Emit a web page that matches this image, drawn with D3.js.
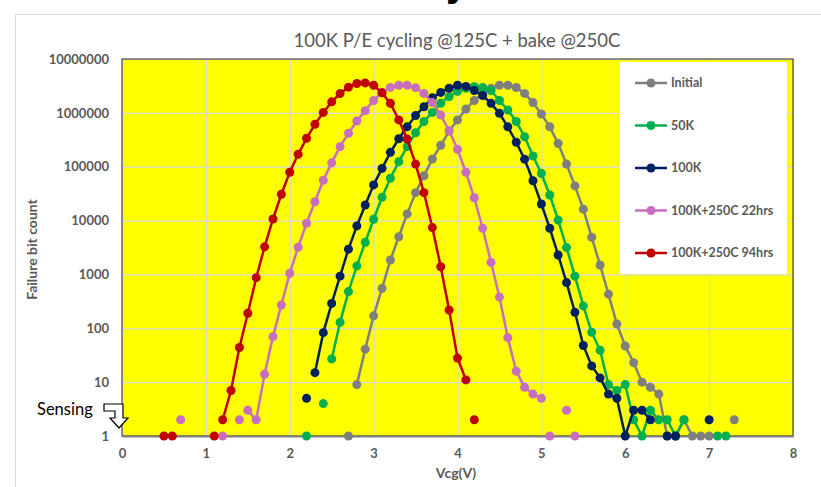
<!DOCTYPE html>
<html>
<head>
<meta charset="utf-8">
<script src="https://cdn.jsdelivr.net/npm/d3@7"></script>
<style>
  body { margin: 0; background: #fff; }
  svg { display: block; font-family: Lato, 'Open Sans', sans-serif; }
</style>
</head>
<body>
<div id="viz"></div>
<script>
// tick labels
const xTicks = [0, 1, 2, 3, 4, 5, 6, 7, 8]
const yTicks = [1, 10, 100, 1000, 10000, 100000, 1000000, 10000000]

// series: [Vcg, failure bit count], null = break in the line
const initial = [[2.7,1], null,
  [2.8,9],[2.9,41],[3.0,170],[3.1,550],[3.2,1850],[3.3,5000],[3.4,13300],[3.5,33000],
  [3.6,68000],[3.7,139000],[3.8,250000],[3.9,458000],[4.0,740000],[4.1,1180000],[4.2,1700000],
  [4.3,2300000],[4.4,2850000],[4.5,3250000],[4.6,3250000],[4.7,2960000],[4.8,2300000],
  [4.9,1550000],[5.0,950000],[5.1,550000],[5.2,270000],[5.3,112000],[5.4,44000],[5.5,16300],
  [5.6,4900],[5.7,1490],[5.8,430],[5.9,120],[6.0,47],[6.1,23],[6.2,10],[6.3,8],[6.4,6],
  [6.5,1],[6.6,1],[6.7,2],[6.8,1],[6.9,1],[7.0,1], null, [7.3,2]]

const k50 = [[2.2,1], null, [2.4,4], null,
  [2.5,27],[2.6,129],[2.7,480],[2.8,1440],[2.9,3960],[3.0,10600],[3.1,27000],[3.2,61000],
  [3.3,124000],[3.4,236000],[3.5,428000],[3.6,690000],[3.7,1020000],[3.8,1500000],[3.9,2000000],
  [4.0,2500000],[4.1,2850000],[4.2,3050000],[4.3,2960000],[4.4,2600000],[4.5,1700000],
  [4.6,1130000],[4.7,690000],[4.8,360000],[4.9,158000],[5.0,75000],[5.1,29800],[5.2,10200],
  [5.3,3150],[5.4,930],[5.5,260],[5.6,84],[5.7,39],[5.8,9],[5.9,7],[6.0,9],[6.1,2],[6.2,1],
  [6.3,3],[6.4,2],[6.5,2],[6.6,1],[6.7,2], null, [7.1,1],[7.2,1]]

const k100 = [[2.2,5], null,
  [2.3,15],[2.4,83],[2.5,290],[2.6,930],[2.7,2950],[2.8,7950],[2.9,19500],[3.0,46000],
  [3.1,93000],[3.2,185000],[3.3,330000],[3.4,550000],[3.5,890000],[3.6,1300000],[3.7,1900000],
  [3.8,2400000],[3.9,2870000],[4.0,3250000],[4.1,3100000],[4.2,2600000],[4.3,2100000],
  [4.4,1500000],[4.5,980000],[4.6,550000],[4.7,285000],[4.8,138000],[4.9,55000],[5.0,20300],
  [5.1,7200],[5.2,2300],[5.3,705],[5.4,198],[5.5,48],[5.6,20],[5.7,12],[5.8,6],[5.9,5],
  [6.0,1],[6.1,3],[6.2,3],[6.3,2], null, [6.5,1],[6.6,1], null, [7.0,2]]

const bake22 = [[0.7,2], null, [1.2,1], null, [1.4,2], null,
  [1.5,3],[1.6,2],[1.7,14],[1.8,70],[1.9,270],[2.0,1050],[2.1,3200],[2.2,8900],[2.3,22400],
  [2.4,56000],[2.5,118000],[2.6,236000],[2.7,417000],[2.8,707000],[2.9,1100000],[3.0,1700000],
  [3.1,2400000],[3.2,2970000],[3.3,3250000],[3.4,3250000],[3.5,2940000],[3.6,2300000],
  [3.7,1550000],[3.8,910000],[3.9,467000],[4.0,210000],[4.1,79000],[4.2,26500],[4.3,7200],
  [4.4,1670],[4.5,380],[4.6,67],[4.7,16],[4.8,8],[4.9,6],[5.0,5], null,
  [5.1,1], null, [5.3,3], null, [5.4,1]]

const bake94 = [[0.5,1],[0.6,1], null, [1.1,1], null,
  [1.2,2],[1.3,7],[1.4,44],[1.5,190],[1.6,870],[1.7,3250],[1.8,10700],[1.9,30800],[2.0,79000],
  [2.1,170000],[2.2,337000],[2.3,612000],[2.4,1020000],[2.5,1600000],[2.6,2280000],
  [2.7,3000000],[2.8,3500000],[2.9,3600000],[3.0,3250000],[3.1,2350000],[3.2,1500000],
  [3.3,740000],[3.4,327000],[3.5,112000],[3.6,33000],[3.7,7400],[3.8,1390],[3.9,219],
  [4.0,28],[4.1,11], null, [4.2,2]]

const seriesNames = ['Initial', '50K', '100K', '100K+250C 22hrs', '100K+250C 94hrs']
const seriesData = [initial, k50, k100, bake22, bake94]
const colors = ['#7f7f7f', '#00b050', '#002060', '#c86ec0', '#c00000']

const W = 821, H = 487
const plot = { left: 122, right: 793, top: 59, bottom: 436 }

const svg = d3.select('#viz').append('svg')
  .attr('width', W).attr('height', H)

// outer chart frame
svg.append('rect')
  .attr('x', 15.5).attr('y', 14.5)
  .attr('width', 900).attr('height', 600)
  .attr('fill', 'none').attr('stroke', '#d9d9d9')

// slide title above the chart, mostly outside the picture
svg.append('text')
  .attr('x', 446).attr('y', -4)
  .attr('font-size', 40).attr('font-weight', 'bold')
  .attr('font-family', 'Liberation Sans, sans-serif')
  .text('y')

const x = d3.scaleLinear().domain([0, 8]).range([plot.left, plot.right])
const y = d3.scaleLog().domain([1, 1e7]).range([plot.bottom, plot.top])

svg.append('rect')
  .attr('x', plot.left).attr('y', plot.top)
  .attr('width', plot.right - plot.left).attr('height', plot.bottom - plot.top)
  .attr('fill', '#ffff00')

// grid
svg.append('g')
  .attr('transform', 'translate(0,' + plot.bottom + ')')
  .call(d3.axisBottom(x).tickValues(xTicks).tickSize(-(plot.bottom - plot.top)).tickFormat(''))
  .call(g => g.select('.domain').remove())
  .call(g => g.selectAll('line').attr('stroke', '#d9d9d9').attr('stroke-width', 1.2))

svg.append('g')
  .attr('transform', 'translate(' + plot.left + ',0)')
  .call(d3.axisLeft(y).tickValues(yTicks).tickSize(-(plot.right - plot.left)).tickFormat(''))
  .call(g => g.select('.domain').remove())
  .call(g => g.selectAll('line').attr('stroke', '#d9d9d9').attr('stroke-width', 1.2))

// plot border
svg.append('rect')
  .attr('x', plot.left).attr('y', plot.top)
  .attr('width', plot.right - plot.left).attr('height', plot.bottom - plot.top)
  .attr('fill', 'none').attr('stroke', '#262626').attr('stroke-width', 1)

// axes
const xAxis = svg.append('g')
  .attr('transform', 'translate(0,' + plot.bottom + ')')
  .call(d3.axisBottom(x).tickValues(xTicks).tickSize(0).tickPadding(13).tickFormat(d3.format('d')))
xAxis.select('.domain').attr('stroke', '#7f7f7f').attr('stroke-width', 2)

const yAxis = svg.append('g')
  .attr('transform', 'translate(' + plot.left + ',0)')
  .call(d3.axisLeft(y).tickValues(yTicks).tickSize(0).tickPadding(13).tickFormat(d => String(d)))
yAxis.select('.domain').remove()

svg.selectAll('.tick text')
  .attr('fill', '#595959').attr('font-size', 13).attr('font-weight', 'bold')
  .attr('font-family', 'Lato, sans-serif')

// series
const line = d3.line()
  .defined(d => d !== null)
  .x(d => x(d[0])).y(d => y(d[1]))

seriesData.forEach((data, i) => {
  const g = svg.append('g')
  g.append('path')
    .attr('d', line(data))
    .attr('fill', 'none')
    .attr('stroke', colors[i])
    .attr('stroke-width', 2.5)
  g.selectAll('circle')
    .data(data.filter(d => d !== null))
    .join('circle')
      .attr('cx', d => x(d[0]))
      .attr('cy', d => y(d[1]))
      .attr('r', 4.5)
      .attr('fill', colors[i])
})

// legend
const legend = svg.append('g')
legend.append('rect')
  .attr('x', 620).attr('y', 62).attr('width', 167).attr('height', 212)
  .attr('fill', '#fff')
seriesNames.forEach((name, i) => {
  const ly = 83 + i * 42.5
  legend.append('line')
    .attr('x1', 635).attr('x2', 667).attr('y1', ly).attr('y2', ly)
    .attr('stroke', colors[i]).attr('stroke-width', 2.5)
  legend.append('circle')
    .attr('cx', 651).attr('cy', ly).attr('r', 4.5).attr('fill', colors[i])
  legend.append('text')
    .attr('x', 671).attr('y', ly).attr('dy', '0.35em')
    .attr('font-size', 12.5).attr('font-weight', 'bold').attr('fill', '#595959')
    .text(name)
})

// titles
svg.append('text')
  .attr('x', 457).attr('y', 47)
  .attr('text-anchor', 'middle')
  .attr('font-size', 18.5).attr('fill', '#595959')
  .text('100K P/E cycling @125C + bake @250C')

svg.append('text')
  .attr('x', 456).attr('y', 478)
  .attr('text-anchor', 'middle')
  .attr('font-size', 14).attr('font-weight', 'bold').attr('fill', '#595959')
  .text('Vcg(V)')

svg.append('text')
  .attr('transform', 'translate(37,' + ((plot.top + plot.bottom) / 2 + 2) + ') rotate(-90)')
  .attr('text-anchor', 'middle')
  .attr('font-size', 14).attr('font-weight', 'bold').attr('fill', '#595959')
  .text('Failure bit count')

// sensing annotation
svg.append('text')
  .attr('x', 37).attr('y', 415)
  .attr('font-size', 16.5).attr('fill', '#000')
  .text('Sensing')

svg.append('path')
  .attr('d', 'M104,404 L123,404 L123,418 L128,418 L119,428 L110,418 L115,418 L115,411 L104,411 Z')
  .attr('fill', '#fff').attr('stroke', '#000').attr('stroke-width', 1.2)
</script>
</body>
</html>
